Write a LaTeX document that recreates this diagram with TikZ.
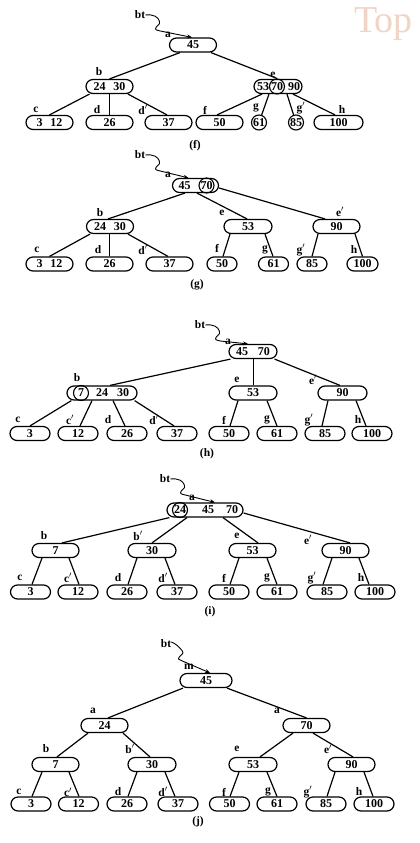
\documentclass[tikz,border=0pt]{standalone}
\usepackage{fontspec}
\setmainfont{Liberation Serif}
\usetikzlibrary{arrows.meta}
\newcommand\keyfnt{\fontsize{12}{12}\selectfont\bfseries}
\newcommand\labfnt{\fontsize{11.5}{11.5}\selectfont\bfseries}
\newcommand\btw[2]{\draw[bta] (#1.east) .. controls +(8,-1) and +(-1,-4) .. ++(14,6) .. controls +(1,4) and +(2,-3) .. ++(-3,6) .. controls +(-2,3) and +(-4,-1) .. ++(4,4) -- (#2);}
\newcommand\btwsteep[2]{\draw[bta] ([yshift=2pt]#1.east) .. controls +(5,2) and +(-3,-4) .. ++(11,9) .. controls +(2,3) and +(2,-3) .. ++(-3,6) .. controls +(-2,3) and +(-3,-2) .. ++(3,4) -- (#2);}
\definecolor{wm}{RGB}{241,212,198}
\begin{document}
\begin{tikzpicture}[x=1pt,y=-1pt,
 kb/.style={draw, line width=1.2pt, rounded corners=7pt, minimum height=14pt, minimum width=47pt, inner sep=0pt, font=\keyfnt},
 kb40/.style={kb, minimum width=40pt},
 kb30/.style={kb, minimum width=30pt},
 ck/.style={draw, circle, line width=1.1pt, minimum size=15pt, inner sep=0pt, font=\keyfnt},
 kt/.style={inner sep=0pt, font=\keyfnt},
 lab/.style={inner sep=0pt, font=\labfnt},
 tl/.style={line width=1.2pt},
 bta/.style={line width=0.9pt, -{Stealth[length=5pt,width=4pt]}},
 capt/.style={inner sep=0pt, font=\labfnt}]
\useasboundingbox (0,0) rectangle (420,843);
\node[anchor=base west, inner sep=0pt, text=wm, font=\fontsize{38}{38}\selectfont] (wmark) at (354,33) {Top};

% ---------------- (f)
\node[lab] (bt_f) at (140,15) {bt};
\node[kb] (a_f) at (193,45) {45};
\node[lab] (la_f) at (168,35) {a};
\node[kb] (b_f) at (109.5,86.5) {24\hspace{8pt}30};
\node[lab] (lb_f) at (99,72) {b};
\node[kb, minimum width=48pt] (e_f) at (278,86.5) {};
\node[kt] (k53_f) at (263,86.5) {53};
\node[ck] (k70_f) at (277,86.5) {70};
\node[kt] (k90_f) at (294,86.5) {90};
\node[lab] (le_f) at (273,75) {e};
\node[kb] (c_f) at (49.5,122.5) {3\hspace{8pt}12};
\node[lab] (lc_f) at (36,110) {c};
\node[kb] (d_f) at (109.5,122.5) {26};
\node[lab] (ld_f) at (97,110) {d};
\node[kb] (dp_f) at (168.5,122.5) {37};
\node[lab] (ldp_f) at (143,110) {d$'$};
\node[kb] (f_f) at (219.5,122.5) {50};
\node[lab] (lf_f) at (205,110) {f};
\node[ck] (g_f) at (259,122.5) {61};
\node[lab] (lg_f) at (256,108) {g};
\node[ck] (gp_f) at (296,122.5) {85};
\node[lab] (lgp_f) at (301,108) {g$'$};
\node[kb, minimum width=49pt] (h_f) at (338.5,122.5) {100};
\node[lab] (lh_f) at (342,110) {h};
\node[capt] (cap_f) at (195,146) {(f)};
\draw[tl] ([xshift=-13pt]a_f.south) -- (b_f.north);
\draw[tl] ([xshift=18pt]a_f.south) -- (k70_f.north);
\draw[tl] ([xshift=-20pt]b_f.south) -- (c_f.north);
\draw[tl] (b_f.south) -- (d_f.north);
\draw[tl] ([xshift=18.5pt]b_f.south) -- ([xshift=-1.5pt]dp_f.north);
\draw[tl] ([xshift=-16pt]e_f.south) -- ([xshift=-2.5pt]f_f.north);
\draw[tl] ([xshift=-9pt]e_f.south) -- (g_f);
\draw[tl] ([xshift=9pt]e_f.south) -- (gp_f);
\draw[tl] ([xshift=15pt]e_f.south) -- ([xshift=-3.5pt]h_f.north);
\btw{bt_f}{[xshift=-1pt]a_f.north}

% ---------------- (g)
\node[lab] (bt_g) at (140,155) {bt};
\node[kb, minimum width=46pt] (a_g) at (195.5,185.5) {};
\node[kt] (k45_g) at (184.5,185.5) {45};
\node[ck] (k70_g) at (206.5,185.5) {70};
\node[lab] (la_g) at (168,175) {a};
\node[kb] (b_g) at (110,226.5) {24\hspace{8pt}30};
\node[lab] (lb_g) at (100,213) {b};
\node[kb, minimum width=48pt] (e_g) at (248,226.5) {53};
\node[lab] (le_g) at (222,213) {e};
\node[kb] (ep_g) at (336.5,226.5) {90};
\node[lab] (lep_g) at (340,212) {e$'$};
\node[kb] (c_g) at (49.5,264) {3\hspace{8pt}12};
\node[lab] (lc_g) at (37,250) {c};
\node[kb] (d_g) at (109.5,264) {26};
\node[lab] (ld_g) at (98,250) {d};
\node[kb] (dp_g) at (169.5,264) {37};
\node[lab] (ldp_g) at (143,250) {d$'$};
\node[kb30] (f_g) at (222,264) {50};
\node[lab] (lf_g) at (217,248) {f};
\node[kb30] (g_g) at (273.5,264) {61};
\node[lab] (lg_g) at (265,250) {g};
\node[kb30] (gp_g) at (312,264) {85};
\node[lab] (lgp_g) at (301,250) {g$'$};
\node[kb, minimum width=31pt] (h_g) at (362.5,264) {100};
\node[lab] (lh_g) at (354,250) {h};
\node[capt] (cap_g) at (197,285) {(g)};
\draw[tl] ([xshift=-10.5pt]a_g.south) -- ([xshift=-2pt]b_g.north);
\draw[tl] ([xshift=1.5pt]a_g.south) -- ([xshift=-1pt]e_g.north);
\draw[tl] ([yshift=-2.5pt]a_g.east) -- ([xshift=-11.5pt]ep_g.north);
\draw[tl] ([xshift=-20pt]b_g.south) -- (c_g.north);
\draw[tl] ([xshift=-0.5pt]b_g.south) -- (d_g.north);
\draw[tl] ([xshift=18pt]b_g.south) -- ([xshift=-1.5pt]dp_g.north);
\draw[tl] ([xshift=-18pt]e_g.south) -- ([xshift=1pt]f_g.north);
\draw[tl] ([xshift=17pt]e_g.south) -- ([xshift=-0.5pt]g_g.north);
\draw[tl] ([xshift=-18.5pt]ep_g.south) -- (gp_g.north);
\draw[tl] ([xshift=18.5pt]ep_g.south) -- (h_g.north);
\btw{bt_g}{[xshift=-7pt]a_g.north}

% ---------------- (h)
\node[lab] (bt_h) at (200,325) {bt};
\node[kb, minimum width=48pt] (a_h) at (253,351.5) {45\hspace{10pt}70};
\node[lab] (la_h) at (228,342) {a};
\node[kb, minimum width=70pt] (b_h) at (102,393) {};
\node[ck] (k7_h) at (81,393) {7};
\node[kt] (k24_h) at (102,393) {24};
\node[kt] (k30_h) at (123,393) {30};
\node[lab] (lb_h) at (77,378) {b};
\node[kb, minimum width=48pt] (e_h) at (253,393) {53};
\node[lab] (le_h) at (237,380) {e};
\node[kb, minimum width=49pt] (ep_h) at (342.5,393) {90};
\node[lab] (lep_h) at (313,380) {e$'$};
\node[kb40] (c_h) at (30,433.5) {3};
\node[lab] (lc_h) at (18,420) {c};
\node[kb40] (cp_h) at (78,433.5) {12};
\node[lab] (lcp_h) at (70,420) {c$'$};
\node[kb40] (d_h) at (127,433.5) {26};
\node[lab] (ld_h) at (108,420) {d};
\node[kb40] (dp_h) at (177,433.5) {37};
\node[lab] (ldp_h) at (154,420) {d$'$};
\node[kb40] (f_h) at (229,433.5) {50};
\node[lab] (lf_h) at (224,420) {f};
\node[kb40] (g_h) at (277,433.5) {61};
\node[lab] (lg_h) at (267,420) {g};
\node[kb40] (gp_h) at (325,433.5) {85};
\node[lab] (lgp_h) at (309,420) {g$'$};
\node[kb40] (h_h) at (372,433.5) {100};
\node[lab] (lh_h) at (358,420) {h};
\node[capt] (cap_h) at (207,454) {(h)};
\draw[tl] ([xshift=2pt]a_h.south west) -- ([xshift=8pt]b_h.north);
\draw[tl] ([xshift=0.5pt]a_h.south) -- ([xshift=0.5pt]e_h.north);
\draw[tl] ([xshift=-3pt]a_h.south east) -- ([xshift=-2.5pt]ep_h.north);
\draw[tl] ([xshift=5pt]b_h.south west) -- (c_h.north);
\draw[tl] ([xshift=-10pt]b_h.south) -- ([xshift=2pt]cp_h.north);
\draw[tl] ([xshift=11pt]b_h.south) -- ([xshift=-2pt]d_h.north);
\draw[tl] ([xshift=-3pt]b_h.south east) -- ([xshift=-3pt]dp_h.north);
\draw[tl] ([xshift=-15pt]e_h.south) -- ([xshift=1pt]f_h.north);
\draw[tl] ([xshift=14pt]e_h.south) -- (g_h.north);
\draw[tl] ([xshift=-14.5pt]ep_h.south) -- ([xshift=-3pt]gp_h.north);
\draw[tl] ([xshift=13.5pt]ep_h.south) -- ([xshift=-6pt]h_h.north);
\btw{bt_h}{[xshift=-5pt]a_h.north}

% ---------------- (i)
\node[lab] (bt_i) at (165,479) {bt};
\node[kb, minimum width=76pt] (a_i) at (205,510) {};
\node[ck] (k24_i) at (180,510) {24};
\node[kt] (k45_i) at (208,510) {45};
\node[kt] (k70_i) at (232,510) {70};
\node[lab] (la_i) at (192,498) {a};
\node[kb] (b_i) at (55.5,550.5) {7};
\node[lab] (lb_i) at (44,536) {b};
\node[kb, minimum width=48pt] (bp_i) at (152,550.5) {30};
\node[lab] (lbp_i) at (138,536) {b$'$};
\node[kb] (e_i) at (252.5,550.5) {53};
\node[lab] (le_i) at (237,536) {e};
\node[kb] (ep_i) at (345.5,550.5) {90};
\node[lab] (lep_i) at (308,540) {e$'$};
\node[kb40] (c_i) at (30.5,592) {3};
\node[lab] (lc_i) at (20,578) {c};
\node[kb40] (cp_i) at (78,592) {12};
\node[lab] (lcp_i) at (68,578) {c$'$};
\node[kb40] (d_i) at (127,592) {26};
\node[lab] (ld_i) at (118,578) {d};
\node[kb40] (dp_i) at (177,592) {37};
\node[lab] (ldp_i) at (163,578) {d$'$};
\node[kb40] (f_i) at (229,592) {50};
\node[lab] (lf_i) at (224,578) {f};
\node[kb40] (g_i) at (277,592) {61};
\node[lab] (lg_i) at (267,578) {g};
\node[kb40] (gp_i) at (327,592) {85};
\node[lab] (lgp_i) at (312,578) {g$'$};
\node[kb40] (h_i) at (375,592) {100};
\node[lab] (lh_i) at (361,578) {h};
\node[capt] (cap_i) at (210,612) {(i)};
\draw[tl] ([xshift=3pt]a_i.south west) -- ([xshift=6.5pt]b_i.north);
\draw[tl] ([xshift=-18pt]a_i.south) -- (bp_i.north);
\draw[tl] ([xshift=18pt]a_i.south) -- ([xshift=5.5pt]e_i.north);
\draw[tl] ([yshift=-3pt]a_i.east) -- ([xshift=4.5pt]ep_i.north);
\draw[tl] ([xshift=-13.5pt]b_i.south) -- ([xshift=1.5pt]c_i.north);
\draw[tl] ([xshift=13.5pt]b_i.south) -- ([xshift=1pt]cp_i.north);
\draw[tl] ([xshift=-15pt]bp_i.south) -- ([xshift=1pt]d_i.north);
\draw[tl] ([xshift=13pt]bp_i.south) -- ([xshift=-2pt]dp_i.north);
\draw[tl] ([xshift=-13.5pt]e_i.south) -- ([xshift=1pt]f_i.north);
\draw[tl] ([xshift=14.5pt]e_i.south) -- (g_i.north);
\draw[tl] ([xshift=-13.5pt]ep_i.south) -- ([xshift=-4pt]gp_i.north);
\draw[tl] ([xshift=13.5pt]ep_i.south) -- ([xshift=-6pt]h_i.north);
\btw{bt_i}{[xshift=10pt]a_i.north}

% ---------------- (j)
\node[lab] (bt_j) at (166,644) {bt};
\node[kb, minimum width=52pt] (m_j) at (206,680.5) {45};
\node[lab] (lm_j) at (189,667) {m};
\node[kb] (a1_j) at (104.5,725.5) {24};
\node[lab] (la1_j) at (93,711) {a};
\node[kb] (a2_j) at (306.5,725.5) {70};
\node[lab] (la2_j) at (277,711) {a};
\node[kb] (b_j) at (55.5,764.5) {7};
\node[lab] (lb_j) at (46,749) {b};
\node[kb, minimum width=48pt] (bp_j) at (152,764.5) {30};
\node[lab] (lbp_j) at (130,749) {b$'$};
\node[kb, minimum width=48pt] (e_j) at (253,764.5) {53};
\node[lab] (le_j) at (237,749) {e};
\node[kb] (ep_j) at (351.5,764.5) {90};
\node[lab] (lep_j) at (328,749) {e$'$};
\node[kb40] (c_j) at (31,804) {3};
\node[lab] (lc_j) at (19,792) {c};
\node[kb40] (cp_j) at (78.5,804) {12};
\node[lab] (lcp_j) at (68,792) {c$'$};
\node[kb40] (d_j) at (127,804) {26};
\node[lab] (ld_j) at (118,792) {d};
\node[kb40] (dp_j) at (178,804) {37};
\node[lab] (ldp_j) at (163,792) {d$'$};
\node[kb40] (f_j) at (229.5,804) {50};
\node[lab] (lf_j) at (224,792) {f};
\node[kb40] (g_j) at (277,804) {61};
\node[lab] (lg_j) at (268,792) {g};
\node[kb40] (gp_j) at (326,804) {85};
\node[lab] (lgp_j) at (308,792) {g$'$};
\node[kb40] (h_j) at (374,804) {100};
\node[lab] (lh_j) at (359,792) {h};
\node[capt] (cap_j) at (198,822) {(j)};
\draw[tl] ([xshift=-23pt]m_j.south) -- ([xshift=3.5pt]a1_j.north);
\draw[tl] ([xshift=21pt]m_j.south) -- (a2_j.north);
\draw[tl] ([xshift=-16.5pt]a1_j.south) -- ([xshift=1.5pt]b_j.north);
\draw[tl] ([xshift=18.5pt]a1_j.south) -- ([xshift=-2pt]bp_j.north);
\draw[tl] ([xshift=-13.5pt]a2_j.south) -- ([xshift=7pt]e_j.north);
\draw[tl] ([xshift=6.5pt]a2_j.south) -- ([xshift=1.5pt]ep_j.north);
\draw[tl] ([xshift=-13.5pt]b_j.south) -- ([xshift=1pt]c_j.north);
\draw[tl] ([xshift=13.5pt]b_j.south) -- ([xshift=0.5pt]cp_j.north);
\draw[tl] ([xshift=-15pt]bp_j.south) -- ([xshift=1pt]d_j.north);
\draw[tl] ([xshift=13pt]bp_j.south) -- ([xshift=-3pt]dp_j.north);
\draw[tl] ([xshift=-14pt]e_j.south) -- ([xshift=0.5pt]f_j.north);
\draw[tl] ([xshift=14pt]e_j.south) -- (g_j.north);
\draw[tl] ([xshift=-16.5pt]ep_j.south) -- ([xshift=1pt]gp_j.north);
\draw[tl] ([xshift=12.5pt]ep_j.south) -- ([xshift=-1pt]h_j.north);
\btwsteep{bt_j}{[xshift=4pt]m_j.north}
\end{tikzpicture}
\end{document}
